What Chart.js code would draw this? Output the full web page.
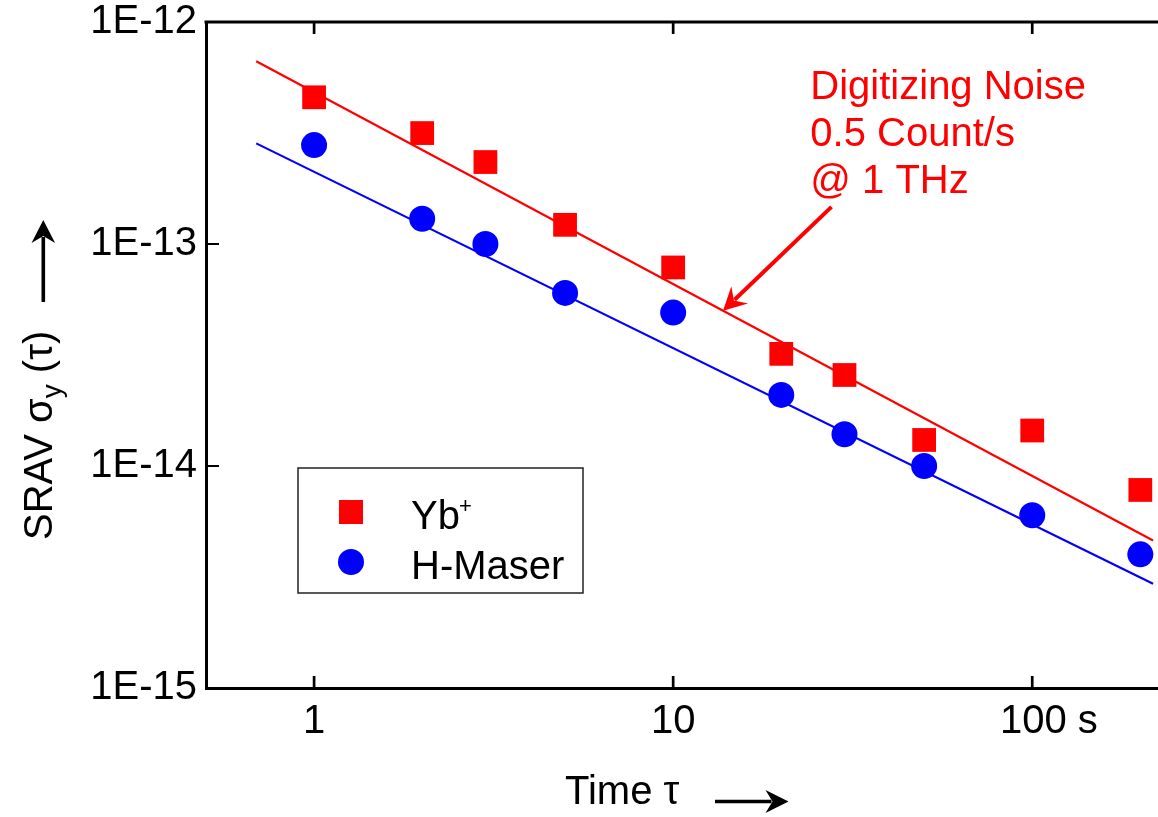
<!DOCTYPE html>
<html><head><meta charset="utf-8">
<script src="https://cdn.jsdelivr.net/npm/chart.js@4.4.0/dist/chart.umd.min.js"></script>
<style>html,body{margin:0;padding:0;background:#fff;overflow:hidden}canvas{display:block}</style>
</head><body>
<canvas id="c" width="1158" height="817"></canvas>
<script>
// ---- data ----
const tau = [1, 2, 3, 5, 10, 20, 30, 50, 100, 200];
const ybValues = [4.58e-13, 3.16e-13, 2.34e-13, 1.22e-13, 7.84e-14, 3.2e-14, 2.57e-14, 1.31e-14, 1.445e-14, 7.8e-15];
const maserValues = [2.79e-13, 1.30e-13, 1.0e-13, 6.02e-14, 4.91e-14, 2.09e-14, 1.39e-14, 1.0e-14, 6.0e-15, 4.0e-15];
const fitTau = [0.69, 217];
const ybFit = [6.66e-13, 4.62e-15];
const maserFit = [2.84e-13, 2.95e-15];
const xTicks = [1, 10, 100];
const xTickLabels = ['1', '10', '100 s'];
const yTicks = [1e-15, 1e-14, 1e-13, 1e-12];
const yTickLabels = ['1E-15', '1E-14', '1E-13', '1E-12'];
const seriesLabels = ['Yb', 'H-Maser'];
const noteLines = ['Digitizing Noise', '0.5 Count/s', '@ 1 THz'];

const FONT = '"Liberation Sans", Arial, Helvetica, sans-serif';
const RED = '#ff0000', BLUE = '#0000ff';

const pts = (xs, ys) => xs.map((x, i) => ({x: x, y: ys[i]}));
// keep the number centred on its tick when a unit follows it
const tickText = t => t.includes(' ') ? '   ' + t : t;

function arrowHead(ctx, tx, ty, ux, uy, len, half, notch) {
  const px = -uy, py = ux;
  ctx.beginPath();
  ctx.moveTo(tx, ty);
  ctx.lineTo(tx - ux * len + px * half, ty - uy * len + py * half);
  ctx.lineTo(tx - ux * notch, ty - uy * notch);
  ctx.lineTo(tx - ux * len - px * half, ty - uy * len - py * half);
  ctx.closePath();
  ctx.fill();
}
function arrow(ctx, x1, y1, x2, y2, lw, len, half, notch, color) {
  const dx = x2 - x1, dy = y2 - y1, d = Math.hypot(dx, dy), ux = dx / d, uy = dy / d;
  ctx.save();
  ctx.strokeStyle = color; ctx.fillStyle = color; ctx.lineWidth = lw; ctx.lineCap = 'butt';
  ctx.beginPath(); ctx.moveTo(x1, y1); ctx.lineTo(x2 - ux * (notch + 1), y2 - uy * (notch + 1)); ctx.stroke();
  arrowHead(ctx, x2, y2, ux, uy, len, half, notch);
  ctx.restore();
}

const decor = {
  id: 'decor',
  afterDraw(chart) {
    const ctx = chart.ctx, ca = chart.chartArea;
    const xs = chart.scales.x, ys = chart.scales.y;
    ctx.save();
    // top frame line
    ctx.strokeStyle = '#000'; ctx.lineWidth = 3;
    ctx.beginPath(); ctx.moveTo(ca.left - 1.5, ca.top); ctx.lineTo(ca.right, ca.top); ctx.stroke();
    // inward x ticks (top and bottom)
    ctx.lineWidth = 2.7;
    xTicks.forEach(v => {
      const p = xs.getPixelForValue(v);
      ctx.beginPath(); ctx.moveTo(p, ca.bottom); ctx.lineTo(p, ca.bottom - 12); ctx.stroke();
      ctx.beginPath(); ctx.moveTo(p, ca.top); ctx.lineTo(p, ca.top + 12); ctx.stroke();
    });
    // inward y ticks
    ctx.lineWidth = 2;
    yTicks.forEach(v => {
      const p = ys.getPixelForValue(v);
      ctx.beginPath(); ctx.moveTo(ca.left, p); ctx.lineTo(ca.left + 13, p); ctx.stroke();
    });

    // legend
    const lx = ca.left + 92, ly = ca.top + 446, lw = 285, lh = 125;
    ctx.lineWidth = 1.5; ctx.strokeStyle = '#222';
    ctx.strokeRect(lx, ly, lw, lh);
    const d0 = chart.data.datasets[0], d1 = chart.data.datasets[1];
    ctx.fillStyle = d0.pointBackgroundColor;
    ctx.fillRect(lx + 41, ly + 32, 24, 24);
    ctx.fillStyle = d1.pointBackgroundColor;
    ctx.beginPath(); ctx.arc(lx + 53, ly + 94, 13, 0, Math.PI * 2); ctx.fill();
    ctx.fillStyle = '#000'; ctx.textBaseline = 'alphabetic'; ctx.textAlign = 'left';
    ctx.font = '40px ' + FONT;
    ctx.fillText(d0.label, lx + 113, ly + 61);
    const wYb = ctx.measureText(d0.label).width;
    ctx.fillText(d1.label, lx + 113, ly + 111);
    ctx.font = '22px ' + FONT;
    ctx.fillText('+', lx + 113 + wYb - 1, ly + 45);

    // annotation
    ctx.fillStyle = RED; ctx.font = '40px ' + FONT;
    const ax = xs.getPixelForValue(24.1), ay = ys.getPixelForValue(4.49e-13);
    noteLines.forEach((t, i) => ctx.fillText(t, ax, ay + i * 46.7));
    arrow(ctx, xs.getPixelForValue(27.6), ys.getPixelForValue(1.47e-13),
          xs.getPixelForValue(13.77), ys.getPixelForValue(5.0e-14), 4, 23, 12, 15, RED);

    // x axis title
    ctx.fillStyle = '#000'; ctx.font = '40px ' + FONT;
    ctx.fillText('Time \u03c4', 565, 804);
    arrow(ctx, 715, 801.5, 788.5, 801.5, 3.4, 23, 11.5, 16, '#000');

    // y axis title (rotated)
    ctx.save();
    ctx.translate(52, 540);
    ctx.rotate(-Math.PI / 2);
    ctx.font = '40px ' + FONT;
    let cx = 0;
    ctx.fillText('SRAV ', cx, 0); cx += ctx.measureText('SRAV ').width;
    ctx.fillText('\u03c3', cx, 0); cx += ctx.measureText('\u03c3').width;
    ctx.font = '28px ' + FONT;
    ctx.fillText('y', cx, 9); cx += ctx.measureText('y').width;
    ctx.font = '40px ' + FONT;
    ctx.fillText(' (\u03c4)', cx, 0);
    ctx.restore();
    arrow(ctx, 43.3, 302, 43.3, 220, 3.6, 23, 11.8, 16, '#000');
    ctx.restore();
  }
};

new Chart(document.getElementById('c'), {
  type: 'scatter',
  data: {
    datasets: [
      {label: seriesLabels[0], data: pts(tau, ybValues), showLine: false, pointStyle: 'rect',
       pointRadius: 16.8, pointBackgroundColor: RED, pointBorderWidth: 0, backgroundColor: RED},
      {label: seriesLabels[1], data: pts(tau, maserValues), showLine: false, pointStyle: 'circle',
       pointRadius: 13, pointBackgroundColor: BLUE, pointBorderWidth: 0, backgroundColor: BLUE},
      {label: 'fitYb', data: pts(fitTau, ybFit), showLine: true, pointRadius: 0,
       borderColor: RED, borderWidth: 2.2},
      {label: 'fitMaser', data: pts(fitTau, maserFit), showLine: true, pointRadius: 0,
       borderColor: BLUE, borderWidth: 2.2}
    ]
  },
  options: {
    responsive: false,
    animation: false,
    events: [],
    layout: {autoPadding: false, padding: {top: 22, right: 0, left: 0, bottom: 0}},
    plugins: {legend: {display: false}, tooltip: {enabled: false}},
    scales: {
      x: {
        type: 'logarithmic', min: 0.5, max: 224,
        afterBuildTicks: s => { s.ticks = xTicks.map(v => ({value: v})); },
        afterFit: s => { s.height = 129; s.paddingLeft = 0; s.paddingRight = 0; },
        grid: {display: true, drawOnChartArea: false, drawTicks: false},
        border: {display: true, color: '#000', width: 3},
        ticks: {autoSkip: false, maxRotation: 0, padding: 14, color: '#000',
                font: {family: FONT, size: 40, lineHeight: 1},
                callback: (v, i) => tickText(xTickLabels[i])}
      },
      y: {
        type: 'logarithmic', min: 1e-15, max: 1e-12,
        afterBuildTicks: s => { s.ticks = yTicks.map(v => ({value: v})); },
        afterFit: s => { s.width = 206; s.paddingTop = 0; s.paddingBottom = 0; },
        grid: {display: true, drawOnChartArea: false, drawTicks: false},
        border: {display: true, color: '#000', width: 3},
        ticks: {autoSkip: false, padding: 9, color: '#000',
                font: {family: FONT, size: 40, lineHeight: 1},
                callback: (v, i) => yTickLabels[i]}
      }
    }
  },
  plugins: [decor]
});
</script>
</body></html>
